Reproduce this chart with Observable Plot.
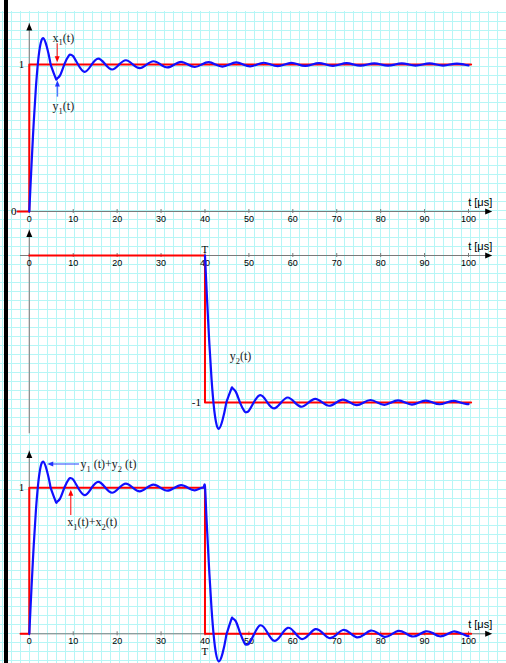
<!DOCTYPE html>
<html><head><meta charset="utf-8">
<script src="https://cdn.jsdelivr.net/npm/d3@7"></script>
<script src="https://cdn.jsdelivr.net/npm/@observablehq/plot@0.6"></script>
<style>
html,body{margin:0;padding:0;background:#fff;}
#page{position:relative;width:506px;height:663px;overflow:hidden;background:#fff;}
#grid{position:absolute;left:0;top:11px;width:506px;height:652px;
 background-image:linear-gradient(to right,#b6f6f6 1px,transparent 1px),linear-gradient(to bottom,#b6f6f6 1px,transparent 1px);
 background-size:9px 9px;background-position:2px 1px;}
#bar{position:absolute;left:4px;top:0;width:4px;height:663px;background:#000;}
</style></head>
<body><div id="page"><div id="grid"></div><div id="bar"></div></div>
<script>
// ---- data ----
const tickValues = [0,10,20,30,40,50,60,70,80,90,100];
const tickLabels = ["0","10","20","30","40","50","60","70","80","90","100"];
const axisTitle = "t [\u03bcs]";
const levelLabels = ["1","0","-1"];
const markT = "T";
const labels1 = ["x\u2081(t)", "y\u2081(t)"];
const labels2 = ["y\u2082(t)"];
const labels3 = ["y\u2081 (t)+y\u2082 (t)", "x\u2081(t)+x\u2082(t)"];

// input steps x(t)
const stepT1 = [-2.7, 0, 0, 100.6];
const stepV1 = [0, 0, 1, 1];
const stepT2 = [0, 40, 40, 100.6];
const stepV2 = [0, 0, -1, -1];
const stepT3 = [-2, 0, 0, 40, 40, 100.6];
const stepV3 = [0, 0, 1, 1, 0, 0];

// response y1(t)
const t1 = [0,0.25,0.5,1,1.5,2,2.5,3.14,4,4.71,5,6,6.28,7,8,9,9.42,10,11.00,12.57,14.14,15.71,17.28,18.85,20.42,21.99,23.56,25.13,26.70,28.27,29.85,31.42,32.99,34.56,36.13,37.70,39.27,40.84,42.41,43.98,45.55,47.12,48.69,50.27,51.84,53.41,54.98,56.55,58.12,59.69,61.26,62.83,64.40,65.97,67.54,69.12,70.69,72.26,73.83,75.40,76.97,78.54,80.11,81.68,83.25,84.82,86.39,87.96,89.54,91.11,92.68,94.25,95.82,97.39,98.96,100];
const y1 = [0,0.159,0.314,0.602,0.843,1.022,1.132,1.179,1.119,1.024,0.987,0.907,0.903,0.926,1.002,1.060,1.066,1.056,1.005,0.950,0.997,1.040,1.002,0.966,0.999,1.029,1.001,0.975,0.999,1.022,1.001,0.980,0.999,1.018,1.000,0.983,1.000,1.016,1.000,0.986,1.000,1.014,1.000,0.987,1.000,1.012,1.000,0.989,1.000,1.011,1.000,0.990,1.000,1.010,1.000,0.991,1.000,1.009,1.000,0.992,1.000,1.008,1.000,0.992,1.000,1.0075,1.000,0.993,1.000,1.007,1.000,0.993,1.000,1.0065,1.000,0.9945];

// response y2(t)
const t2 = [40,40.25,40.5,41,41.5,42,42.5,43.14,44,44.71,45,46,46.28,47,48,49,49.42,50,51.00,52.57,54.14,55.71,57.28,58.85,60.42,61.99,63.56,65.13,66.70,68.27,69.85,71.42,72.99,74.56,76.13,77.70,79.27,80.84,82.41,83.98,85.55,87.12,88.69,90.27,91.84,93.41,94.98,96.55,98.12,99.69,100];
const y2 = [0,-0.159,-0.314,-0.602,-0.843,-1.022,-1.132,-1.179,-1.119,-1.024,-0.987,-0.907,-0.903,-0.926,-1.002,-1.060,-1.066,-1.056,-1.005,-0.950,-0.997,-1.040,-1.002,-0.966,-0.999,-1.029,-1.001,-0.975,-0.999,-1.022,-1.001,-0.980,-0.999,-1.018,-1.000,-0.983,-1.000,-1.016,-1.000,-0.986,-1.000,-1.014,-1.000,-0.987,-1.000,-1.012,-1.000,-0.989,-1.000,-1.011,-1.010];

// sum y1(t)+y2(t)
const t3 = [0,0.25,0.5,1,1.5,2,2.5,3.14,4,4.71,5,6,6.28,7,8,9,9.42,10,11.00,12.57,14.14,15.71,17.28,18.85,20.42,21.99,23.56,25.13,26.70,28.27,29.85,31.42,32.99,34.56,36.13,37.70,39.27,39.75,40,40.25,40.5,41,41.5,42,42.5,43.14,44,44.71,45,46,46.28,47,48,49,49.42,50,51.00,52.57,54.14,55.71,57.28,58.85,60.42,61.99,63.56,65.13,66.70,68.27,69.85,71.42,72.99,74.56,76.13,77.70,79.27,80.84,82.41,83.98,85.55,87.12,88.69,90.27,91.84,93.41,94.98,96.55,98.12,99.69,100];
const s3 = [0,0.159,0.314,0.602,0.843,1.022,1.132,1.179,1.119,1.024,0.987,0.907,0.903,0.926,1.002,1.060,1.066,1.056,1.005,0.950,0.997,1.040,1.002,0.966,0.999,1.029,1.001,0.975,0.999,1.022,1.001,0.980,0.999,1.018,1.000,0.983,1.000,1.007,1.010,0.855,0.701,0.413,0.169,-0.016,-0.134,-0.189,-0.134,-0.035,0.006,0.099,0.106,0.087,0.006,-0.064,-0.075,-0.068,-0.014,0.058,0.012,-0.048,-0.010,0.041,0.009,-0.036,-0.009,0.032,0.008,-0.029,-0.008,0.026,0.007,-0.024,-0.007,0.022,0.006,-0.021,-0.006,0.020,0.006,-0.018,-0.006,0.017,0.005,-0.017,-0.005,0.016,0.005,-0.015,-0.016];

// ---- drawing ----
const RED = "#ff0000", BLUE = "#1010ff", AX = "#7a7a7a";
const SERIF = "Liberation Serif, 'Times New Roman', DejaVu Serif, serif";
const SANS = "Liberation Sans, Arial, Helvetica, sans-serif";
const sym = (pts) => ({draw(ctx){ ctx.moveTo(pts[0][0],pts[0][1]); for (let i=1;i<pts.length;i++) ctx.lineTo(pts[i][0],pts[i][1]); ctx.closePath(); }});
const headRight = sym([[0,0],[-7,-3],[-7,3]]);
const headUp = sym([[0,0],[-3,7],[3,7]]);
const smallDown = sym([[0,0],[-2.5,-6],[2.5,-6]]);
const smallUp = sym([[0,0],[-2.5,6],[2.5,6]]);
const smallLeft = sym([[0,0],[6,-2.5],[6,2.5]]);

const page = document.getElementById("page");
const X = {domain:[0,100], range:[28.8,468], axis:null};

// render unicode subscripts as shifted tspans
const SUB = {"\u2081":"1","\u2082":"2"};
function fixSubscripts(svg){
  svg.querySelectorAll("text").forEach(t => {
    const s = t.textContent;
    if (!/[\u2081\u2082]/.test(s)) return;
    while (t.firstChild) t.removeChild(t.firstChild);
    let shifted = false;
    for (const part of s.split(/([\u2081\u2082])/)) {
      if (!part) continue;
      const ts = document.createElementNS("http://www.w3.org/2000/svg","tspan");
      if (SUB[part]) { ts.textContent = SUB[part]; ts.setAttribute("font-size","8.5"); ts.setAttribute("dy","3.5"); shifted = true; }
      else { ts.textContent = part; if (shifted) { ts.setAttribute("dy","-3.5"); shifted = false; } }
      t.appendChild(ts);
    }
  });
}
function addPanel(yDomain, yRange, marks){
  const svg = Plot.plot({width:506, height:663, margin:0, x:X,
    y:{domain:yDomain, range:yRange, axis:null},
    style:{background:"transparent", overflow:"visible", fontFamily:SANS},
    marks});
  svg.style.position = "absolute"; svg.style.left = "0px"; svg.style.top = "0px";
  fixSubscripts(svg);
  page.appendChild(svg);
}
function axes(vBottom, vTip, labelDy){
  return [
    Plot.ruleY([0], {x1:-2, x2:104.5, stroke:AX, strokeWidth:1}),
    Plot.ruleX([0], {y1:vBottom, y2:vTip, stroke:"#8a8a8a", strokeWidth:1.2}),
    Plot.ruleX(tickValues, {y1:0, y2:0, insetTop:-2, insetBottom:-2, stroke:AX}),
    Plot.dot([0], {x:105.4, y:0, symbol:headRight, fill:"#000"}),
    Plot.dot([0], {x:0, y:vTip, symbol:headUp, fill:"#000"}),
    Plot.text(tickLabels, {x:tickValues, y:0, dy:labelDy, fontSize:9, fontFamily:SANS, fill:"#000"}),
    Plot.text([axisTitle], {x:105.4, y:0, dy:-9.5, textAnchor:"end", fontSize:11, fontFamily:SANS, fill:"#000"})
  ];
}

// Panel 1: x1(t), y1(t)
addPanel([0,1], [211,64], [
  ...axes(0, 1.279, 7.5),
  Plot.line(stepV1, {x:stepT1, y:stepV1, stroke:RED, strokeWidth:2}),
  Plot.line(y1, {x:t1, y:y1, curve:"natural", stroke:BLUE, strokeWidth:2.2}),
  Plot.text([levelLabels[0]], {x:0, y:1, dx:-5, textAnchor:"end", fontFamily:SERIF, fontSize:11}),
  Plot.text([levelLabels[1]], {x:-2.7, y:0, dx:-1, textAnchor:"end", fontFamily:SERIF, fontSize:11}),
  Plot.text([labels1[0]], {x:5.3, y:1.18, textAnchor:"start", fontFamily:SERIF, fontSize:12, fill:"#222"}),
  Plot.text([labels1[1]], {x:5.3, y:0.714, textAnchor:"start", fontFamily:SERIF, fontSize:12, fill:"#222"}),
  Plot.ruleX([0], {x:6.35, y1:1.141, y2:1.03, stroke:RED, strokeWidth:1}),
  Plot.dot([0], {x:6.35, y:1.016, symbol:smallDown, fill:RED}),
  Plot.ruleX([0], {x:6.4, y1:0.778, y2:0.87, stroke:"#5577ff", strokeWidth:1.5}),
  Plot.dot([0], {x:6.4, y:0.891, symbol:smallUp, fill:"#2233ff"})
]);

// Panel 2: x2(t), y2(t)
addPanel([-1,0], [402,255], [
  ...axes(-1.213, 0.173, 7.5),
  Plot.line(stepV2, {x:stepT2, y:stepV2, stroke:RED, strokeWidth:2}),
  Plot.line(y2, {x:t2, y:y2, curve:"natural", stroke:BLUE, strokeWidth:2.2}),
  Plot.text([markT], {x:40, y:0, dy:-6.5, fontFamily:SERIF, fontSize:11}),
  Plot.text([levelLabels[2]], {x:40, y:-1, dx:-4, textAnchor:"end", fontFamily:SERIF, fontSize:11}),
  Plot.text([labels2[0]], {x:45.65, y:-0.685, textAnchor:"start", fontFamily:SERIF, fontSize:12, fill:"#222"})
]);

// Panel 3: x1+x2, y1+y2
addPanel([0,1], [633.3,487.3], [
  ...axes(0, 1.252, 7.5),
  Plot.line(stepV3, {x:stepT3, y:stepV3, stroke:RED, strokeWidth:2}),
  Plot.line(s3, {x:t3, y:s3, curve:"natural", stroke:BLUE, strokeWidth:2.2}),
  Plot.text([levelLabels[0]], {x:0, y:1, dx:-5, textAnchor:"end", fontFamily:SERIF, fontSize:11}),
  Plot.text([markT], {x:40, y:0, dy:18, fontFamily:SERIF, fontSize:11}),
  Plot.text([labels3[0]], {x:11.66, y:1.16, textAnchor:"start", fontFamily:SERIF, fontSize:12, fill:"#222"}),
  Plot.text([labels3[1]], {x:8.63, y:0.764, textAnchor:"start", fontFamily:SERIF, fontSize:12, fill:"#222"}),
  Plot.ruleY([0], {y:1.163, x1:11.43, x2:5.3, stroke:"#2244ff", strokeWidth:1}),
  Plot.dot([0], {x:4.08, y:1.163, symbol:smallLeft, fill:"#2233ff"}),
  Plot.ruleX([0], {x:9.45, y1:0.81, y2:0.95, stroke:RED, strokeWidth:1}),
  Plot.dot([0], {x:9.45, y:0.986, symbol:smallUp, fill:RED})
]);
</script>
</body></html>
